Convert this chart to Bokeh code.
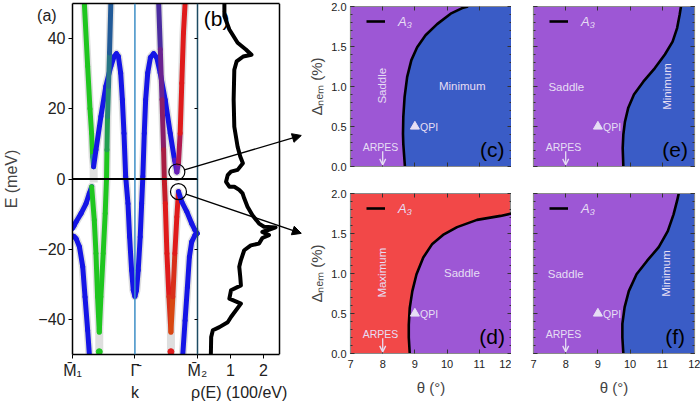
import math
from bokeh.plotting import figure
from bokeh.layouts import row, column
from bokeh.models import (Range1d, LinearAxis, FixedTicker, Label, Arrow, NormalHead,
                          OpenHead, Legend, LegendItem, Span, NumeralTickFormatter)
from bokeh.embed import file_html
from bokeh.resources import INLINE

FONT = "Liberation Sans"

# ============================ DATA ============================
GRN, BLU, RED, PUR, TEA = "#1fc61f", "#1515e6", "#df1b1b", "#6a1fb4", "#2a9a86"
SHADOW = "#dedede"

# panel (a): fat bands, k from M1 (-1) over Gamma (0) to M2 (+1); E in meV
band1_k = [-0.810, -0.757, -0.720, -0.694, -0.678, -0.662, -0.624, -0.545, -0.466, -0.386,
           -0.333, -0.296, -0.265, -0.228, -0.201, -0.175, -0.148, -0.111, -0.085, -0.053,
           -0.026, 0.000, 0.026, 0.053, 0.085, 0.108, 0.127, 0.150, 0.172, 0.205,
           0.248, 0.300, 0.350, 0.405, 0.485, 0.566, 0.635, 0.672, 0.698, 0.725,
           0.751, 0.778, 0.804]
band1_E = [50.0, 32.1, 20.0, 13.0, 6.4, 3.5, 8.3, 17.8, 26.4, 32.1,
           34.9, 35.7, 34.9, 30.2, 22.6, 13.0, 0.7, -7.0, -16.5, -26.0,
           -31.7, -33.4, -31.7, -26.0, -16.5, -7.0, 0.7, 13.0, 22.6, 30.2,
           34.6, 35.7, 34.6, 30.2, 22.6, 13.0, 5.4, 2.0, 4.5, 13.0,
           27.3, 41.6, 50.0]
band1_c = [GRN, GRN, GRN, GRN, TEA, BLU, BLU, BLU, BLU, BLU,
           BLU, BLU, BLU, BLU, BLU, BLU, BLU, BLU, BLU, BLU,
           BLU, BLU, BLU, BLU, BLU, BLU, BLU, BLU, BLU, BLU,
           BLU, BLU, BLU, BLU, BLU, BLU, "#4a1ad0", PUR, "#b01a50", RED,
           RED, RED, RED]

band2_k = [-1.000, -0.975, -0.942, -0.862, -0.783, -0.730, -0.693, -0.651, -0.624, -0.598,
           -0.571, -0.545, -0.508, -0.476, -0.455, -0.448, -0.439, -0.423, -0.407, -0.386]
band2_E = [-14.1, -13.3, -12.2, -9.8, -7.0, -4.1, -2.2, -11.7, -21.2, -33.6,
           -43.6, -33.6, -21.2, -9.8, 0.0, 8.3, 17.8, 26.4, 35.9, 50.0]
band2_c = [BLU, BLU, BLU, BLU, BLU, BLU, GRN, GRN, GRN, GRN,
           GRN, GRN, GRN, GRN, GRN, "#22a050", "#268a72", "#277585", "#215a98", "#1c48a8"]

band3_k = [-1.000, -0.975, -0.942, -0.889, -0.836, -0.799, -0.757, -0.730]
band3_E = [-16.2, -16.4, -17.0, -19.3, -25.0, -33.6, -43.1, -50.0]
band3_c = [BLU] * 8

band4_k = [0.381, 0.407, 0.434, 0.460, 0.471, 0.487, 0.513, 0.545, 0.577, 0.608,
           0.640, 0.672, 0.698, 0.751, 0.831, 0.910, 0.963, 1.000]
band4_E = [50.0, 36.9, 22.6, 8.3, 0.0, -7.0, -21.2, -33.6, -43.6, -33.6,
           -21.2, -10.8, -3.6, -6.5, -9.3, -12.7, -14.6, -15.5]
band4_c = ["#4a2ca0", "#6a2290", "#8a1f68", "#a81e42", "#c41c28", RED, RED, "#d8301a",
           "#d84812", "#d8301a", RED, RED, BLU, BLU, BLU, BLU, BLU, BLU]

band5_k = [1.000, 0.963, 0.910, 0.873, 0.841, 0.804, 0.767]
band5_E = [-15.5, -16.0, -17.9, -22.2, -30.8, -40.3, -50.0]
band5_c = [BLU] * 7

shadow_k = [[-0.571, -0.571], [0.577, 0.577], [-0.662, -0.660]]
shadow_E = [[-43.6, -50.0], [-43.6, -50.0], [3.5, -1.0]]
dot_k = [-0.571, 0.577]
dot_E = [-49.2, -49.2]
dot_c = [GRN, RED]

circle_k = [0.672, 0.698]
circle_E = [2.0, -3.6]

K_M1, K_GAMMA, K_M2 = -1.0, 0.0, 1.0
E_F = 0.0
E_MIN, E_MAX = -50.0, 50.0
E_TICKS = [-40, -20, 0, 20, 40]
RHO_TICKS = [1, 2]
RHO_MAX = 2.5

# panel (b): density of states rho(E) in 100/eV
dos_rho = [0.82, 0.82, 0.97, 1.22, 1.47, 1.64, 1.39, 1.19, 1.12, 1.10,
           1.12, 1.22, 1.30, 1.38, 1.22, 1.02, 0.92, 0.87, 0.97, 1.12,
           1.27, 1.37, 1.42, 1.52, 1.67, 1.87, 2.02, 2.37, 2.12, 1.97,
           2.17, 1.97, 1.87, 1.62, 1.42, 1.32, 1.27, 1.30, 1.32, 1.02,
           0.97, 1.32, 1.02, 0.92, 0.67, 0.47, 0.42, 0.41]
dos_E = [50.0, 46.4, 42.6, 38.8, 36.9, 35.4, 34.9, 33.5, 31.1, 22.6,
         14.9, 9.2, 6.4, 4.5, 2.6, 2.1, 1.1, -0.8, -2.2, -2.2,
         -3.1, -4.1, -5.5, -7.9, -10.3, -12.7, -13.6, -13.8, -14.6, -15.1,
         -16.0, -16.8, -18.4, -18.9, -20.3, -23.1, -25.0, -27.9, -30.3, -31.7,
         -34.1, -35.5, -39.3, -40.8, -42.2, -43.1, -45.0, -50.0]

# arrows from the circled band edges towards panels (c) and (d)
ARROW_TIP_RHO = 3.15
ARROW_TIP_E = [12.4, -15.5]

# panels (c)-(f): phase boundary A3, theta in degrees, Delta_nem in %
c_theta = [8.69, 8.64, 8.63, 8.64, 8.68, 8.76, 8.89, 9.07, 9.33, 9.69, 10.11, 10.47, 10.65]
c_delta = [0.00, 0.28, 0.41, 0.62, 0.87, 1.12, 1.33, 1.49, 1.64, 1.78, 1.91, 1.98, 2.00]
d_theta = [8.84, 8.81, 8.81, 8.84, 8.92, 9.05, 9.26, 9.54, 9.90, 10.31, 10.93, 11.66, 12.00]
d_delta = [0.00, 0.20, 0.36, 0.57, 0.78, 0.99, 1.20, 1.37, 1.49, 1.58, 1.67, 1.72, 1.75]
e_theta = [9.79, 9.77, 9.79, 9.84, 9.94, 10.12, 10.41, 10.77, 11.08, 11.32, 11.46, 11.54, 11.58]
e_delta = [0.00, 0.23, 0.40, 0.56, 0.73, 0.90, 1.06, 1.23, 1.40, 1.56, 1.73, 1.90, 2.00]
f_theta = [9.79, 9.76, 9.76, 9.83, 9.96, 10.20, 10.53, 10.89, 11.17, 11.35, 11.46, 11.51]
f_delta = [0.00, 0.20, 0.37, 0.58, 0.78, 0.99, 1.16, 1.33, 1.53, 1.74, 1.91, 2.00]

THETA_TICKS = [7, 8, 9, 10, 11, 12]
DELTA_TICKS = [0.0, 0.5, 1.0, 1.5, 2.0]
QPI = (9.0, 0.5)
ARPES_THETA = 8.0
TH_MIN, TH_MAX, DE_MIN, DE_MAX = 7.0, 12.0, 0.0, 2.0

PURPLE, BLUE, REDF = "#9d57d5", "#3a5cc6", "#f24848"
LIGHT = "#e6def4"

# region labels: (text, theta, delta, angle_deg)
c_texts = [("Saddle", 7.98, 1.01, 90), ("Minimum", 10.47, 1.01, 0)]
d_texts = [("Maximum", 7.97, 1.01, 90), ("Saddle", 10.46, 1.01, 0)]
e_texts = [("Saddle", 8.02, 1.0, 0), ("Minimum", 11.14, 1.0, 90)]
f_texts = [("Saddle", 8.0, 1.0, 0), ("Minimum", 11.13, 1.0, 90)]

# ============================ LAYOUT (px) ============================
A_W, B_W, X_W = 127, 84, 22          # widths of (a), (b) and the strip the arrows cross
AB_L, AB_R, AB_T, AB_H, AB_B = 68, 2, 3, 351, 52
PX_PER_K = A_W / (K_M2 - K_M1)
PX_PER_RHO = B_W / RHO_MAX
PX_PER_E = AB_H / (E_MAX - E_MIN)
K_END = K_M2 + (B_W + X_W) / PX_PER_K
RHO_START = -A_W / PX_PER_RHO
RHO_END = (B_W + X_W) / PX_PER_RHO


def rho_of_k(k):
    return (k - K_M2) * PX_PER_K / PX_PER_RHO


PH_W, PH_H = 161, 160
C_L, C_R, E_L, E_R = 47, 0, 22, 6
C_T, C_B, D_T, D_B = 6, 22, 5, 50


def style_axis(ax, fs, show=True):
    ax.major_label_text_font = FONT
    ax.axis_label_text_font = FONT
    ax.axis_label_text_font_style = "normal"
    if show:
        ax.major_label_text_font_size = fs
        ax.major_label_text_color = "#222222"
    else:
        ax.major_label_text_font_size = "0px"
        ax.major_label_text_color = None
        ax.major_label_standoff = 0


# ---------------- panels (a)+(b) in one frame ----------------
pab = figure(width=AB_L + A_W + B_W + X_W + AB_R, height=AB_T + AB_H + AB_B,
             x_range=Range1d(K_M1, K_END), y_range=Range1d(E_MIN, E_MAX),
             output_backend="svg", toolbar_location=None, tools="",
             x_axis_location=None, y_axis_location=None,
             min_border_left=AB_L, min_border_right=AB_R,
             min_border_top=AB_T, min_border_bottom=AB_B,
             outline_line_color=None)
pab.extra_x_ranges = {"rho": Range1d(RHO_START, RHO_END)}
pab.grid.visible = False

pad = "\u00a0" * 4
bt_ticks = [rho_of_k(K_M1), rho_of_k(K_GAMMA), rho_of_k(K_M2)] + [float(t) for t in RHO_TICKS]
bt_labels = {rho_of_k(K_M1): "M\u0304\u2081", rho_of_k(K_GAMMA): "\u0393\u0304\nk",
             rho_of_k(K_M2): "M\u0304\u2082",
             float(RHO_TICKS[0]): "1\n" + pad + "\u03c1(E) (100/eV)"}
ax_b = LinearAxis(x_range_name="rho", bounds=(RHO_START, RHO_MAX),
                  ticker=FixedTicker(ticks=bt_ticks), major_label_overrides=bt_labels,
                  major_tick_in=0, major_tick_out=4, minor_tick_line_color=None,
                  major_label_standoff=3, axis_line_color="black", axis_line_width=1.5,
                  major_label_text_line_height=1.35)
style_axis(ax_b, "16px")
pab.add_layout(ax_b, "below")

ax_t = LinearAxis(x_range_name="rho", bounds=(RHO_START, RHO_MAX), ticker=FixedTicker(ticks=[]),
                  major_tick_line_color=None, minor_tick_line_color=None,
                  axis_line_color="black", axis_line_width=1.5)
style_axis(ax_t, "0px", show=False)
pab.add_layout(ax_t, "above")

ax_l = LinearAxis(ticker=FixedTicker(ticks=E_TICKS),
                  major_label_overrides={t: (str(t).replace("-", "\u2212")) for t in E_TICKS},
                  major_tick_in=0, major_tick_out=4, minor_tick_line_color=None,
                  major_label_standoff=3, axis_label="E (meV)", axis_label_standoff=14,
                  axis_label_text_font_size="16px", axis_line_color="black",
                  axis_line_width=1.5, major_label_text_line_height=1.35)
ax_l.major_label_overrides[E_TICKS[-1]] = "(a)\u00a0\u00a0\n" + str(E_TICKS[-1]) + "\n\u00a0"
style_axis(ax_l, "16px")
pab.add_layout(ax_l, "left")

ax_mid = LinearAxis(fixed_location=K_M2, ticker=FixedTicker(ticks=E_TICKS),
                    major_tick_in=3, major_tick_out=0, minor_tick_line_color=None,
                    axis_line_color="#1d4b63", axis_line_width=1.5)
style_axis(ax_mid, "0px", show=False)
pab.add_layout(ax_mid, "right")

ax_br = LinearAxis(x_range_name="rho", fixed_location=RHO_MAX, ticker=FixedTicker(ticks=[]),
                   major_tick_line_color=None, minor_tick_line_color=None,
                   axis_line_color="black", axis_line_width=1.5)
style_axis(ax_br, "0px", show=False)
pab.add_layout(ax_br, "right")

pab.add_layout(Span(location=K_GAMMA, dimension="height", line_color="#3e8fc6", line_width=1.5))

bands = [(band1_k, band1_E, band1_c), (band2_k, band2_E, band2_c), (band3_k, band3_E, band3_c),
         (band4_k, band4_E, band4_c), (band5_k, band5_E, band5_c)]
for ks, es, cs in bands:
    pab.line(ks, es, line_color=SHADOW, line_width=8, line_cap="butt", line_join="round")
pab.multi_line(shadow_k, shadow_E, line_color=SHADOW, line_width=8, line_cap="butt")
for ks, es, cs in bands:
    xs = [[ks[i], ks[i + 1]] for i in range(len(ks) - 1)]
    ys = [[es[i], es[i + 1]] for i in range(len(es) - 1)]
    pab.multi_line(xs, ys, line_color=cs[:-1], line_width=5, line_cap="round")
pab.scatter(dot_k, dot_E, color=dot_c, size=6)

pab.line([K_M1, K_M2], [E_F, E_F], line_color="black", line_width=2)
pab.scatter(circle_k, circle_E, marker="circle", size=16, fill_alpha=0,
            line_color="black", line_width=1.2)

pab.line(dos_rho, dos_E, x_range_name="rho", line_color="black", line_width=4,
         line_join="round")

pab.add_layout(Label(x=19.7 / PX_PER_RHO, y=E_MAX - 15 / PX_PER_E, x_range_name="rho",
                     text="(b)", text_font=FONT, text_font_size="21px", text_color="black",
                     text_align="center", text_baseline="middle"))

CIRCLE_R = 8
for ck, ce, te in zip(circle_k, circle_E, ARROW_TIP_E):
    cr = rho_of_k(ck)
    dx = (ARROW_TIP_RHO - cr) * PX_PER_RHO
    dy = (te - ce) * PX_PER_E
    L = math.hypot(dx, dy)
    pab.add_layout(Arrow(x_range_name="rho",
                         x_start=cr + dx / L * CIRCLE_R / PX_PER_RHO,
                         y_start=ce + dy / L * CIRCLE_R / PX_PER_E,
                         x_end=ARROW_TIP_RHO, y_end=te, line_color="black", line_width=1.3,
                         end=NormalHead(size=9, fill_color="black", line_color="black")))


# ---------------- phase panels ----------------
def phase(bt, bd, bg, fill, texts, tag, show_x, show_y, lb, rb, tb, bb):
    p = figure(width=lb + PH_W + rb, height=tb + PH_H + bb,
               x_range=Range1d(TH_MIN, TH_MAX), y_range=Range1d(DE_MIN, DE_MAX),
               output_backend="svg", toolbar_location=None, tools="",
               x_axis_location=None, y_axis_location=None,
               min_border_left=lb, min_border_right=rb, min_border_top=tb, min_border_bottom=bb,
               background_fill_color=bg, outline_line_color="#8a8a8a", outline_line_width=1.2)
    p.grid.visible = False
    p.harea(y=bd, x1=bt, x2=[TH_MAX] * len(bd), fill_color=fill)
    bline = p.line(bt, bd, line_color="black", line_width=2.6)

    for side in ("below", "above", "left", "right"):
        if side in ("below", "above"):
            ax = LinearAxis(ticker=FixedTicker(ticks=THETA_TICKS))
        else:
            ax = LinearAxis(ticker=FixedTicker(ticks=DELTA_TICKS,
                                               minor_ticks=[i / 10 for i in range(21)]),
                            formatter=NumeralTickFormatter(format="0.0"))
        ax.major_tick_in, ax.major_tick_out = 4, 0
        ax.minor_tick_in, ax.minor_tick_out = 2, 0
        ax.major_tick_line_color = "#333333"
        ax.minor_tick_line_color = "#333333"
        ax.axis_line_color = "#8a8a8a"
        lab = (side == "below" and show_x) or (side == "left" and show_y)
        style_axis(ax, "11px", show=lab)
        if lab:
            ax.axis_label_text_font_size = "15px"
            if side == "below":
                ax.major_label_standoff = 6
                ax.axis_label_standoff = 8
                ax.axis_label = "\u03b8 (\u00b0)"
            else:
                ax.major_label_standoff = 4
                ax.axis_label_standoff = 3
                ax.axis_label = "\u0394\u2099\u2091\u2098 (%)"
        p.add_layout(ax, side)

    for txt, x, y, ang in texts:
        p.add_layout(Label(x=x, y=y, text=txt, angle=math.radians(ang), text_color=LIGHT,
                           text_font=FONT, text_font_size="11.5px",
                           text_align="center", text_baseline="middle"))
    p.scatter([QPI[0]], [QPI[1]], marker="triangle", size=9, color=LIGHT)
    p.add_layout(Label(x=QPI[0] + 0.16, y=QPI[1], text="QPI", text_color=LIGHT,
                       text_font=FONT, text_font_size="10.5px", text_baseline="middle"))
    p.add_layout(Label(x=ARPES_THETA - 0.07, y=0.25, text="ARPES", text_color=LIGHT,
                       text_font=FONT, text_font_size="10.5px",
                       text_align="center", text_baseline="middle"))
    p.add_layout(Arrow(x_start=ARPES_THETA, y_start=0.19, x_end=ARPES_THETA, y_end=0.02,
                       line_color=LIGHT, line_width=1.3,
                       end=OpenHead(size=6, line_color=LIGHT, line_width=1.3)))
    p.add_layout(Label(x=11.4, y=0.21, text=tag, text_font=FONT, text_font_size="21px",
                       text_color="black", text_align="center", text_baseline="middle"))
    leg = Legend(items=[LegendItem(label="A\u2083", renderers=[bline])],
                 location=(16, PH_H - 23), margin=0, padding=0,
                 background_fill_alpha=0, border_line_alpha=0,
                 label_text_color=LIGHT, label_text_font=FONT, label_text_font_style="italic",
                 label_text_font_size="13px", glyph_width=19, glyph_height=16,
                 label_height=16, label_standoff=13)
    p.add_layout(leg)
    return p


pc = phase(c_theta, c_delta, PURPLE, BLUE, c_texts, "(c)", False, True, C_L, C_R, C_T, C_B)
pd = phase(d_theta, d_delta, REDF, PURPLE, d_texts, "(d)", True, True, C_L, C_R, D_T, D_B)
pe = phase(e_theta, e_delta, PURPLE, BLUE, e_texts, "(e)", False, False, E_L, E_R, C_T, C_B)
pf = phase(f_theta, f_delta, PURPLE, BLUE, f_texts, "(f)", True, False, E_L, E_R, D_T, D_B)

layout = row(pab, column(pc, pd), column(pe, pf))
open("out.html", "w").write(file_html(layout, INLINE))
